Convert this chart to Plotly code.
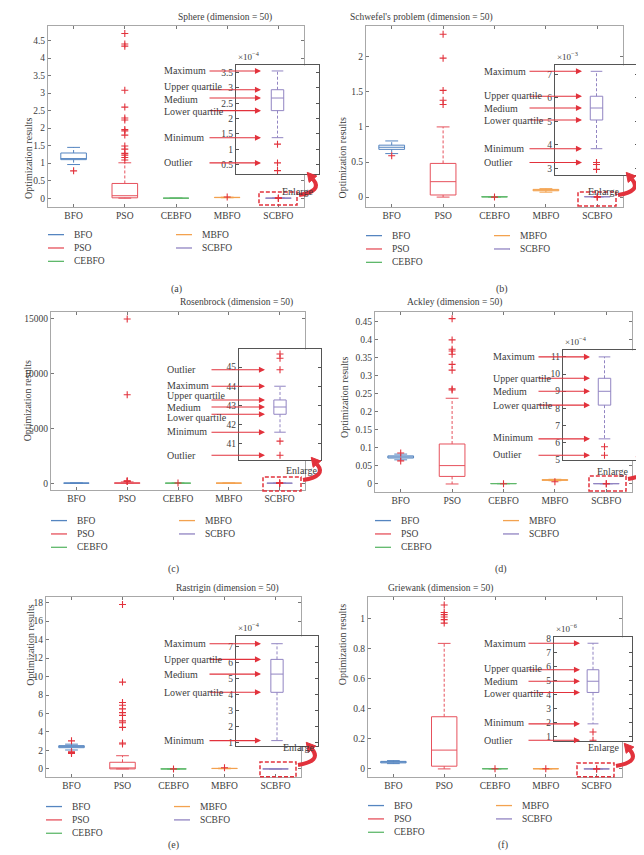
import numpy as np
import plotly.graph_objects as go

W, H = 644, 855
ALGOS = ["BFO", "PSO", "CEBFO", "MBFO", "SCBFO"]
COLORS = ["#5585c0", "#e6515c", "#5fb86b", "#f3a24f", "#9184c2"]
RED = "#e2323c"
FONT = "Liberation Serif"
INK = "#3c3c3c"

# five-number summaries (lower whisker, Q1, median, Q3, upper whisker) for BFO, PSO, CEBFO, MBFO, SCBFO
sphere_lo = [0.96, 0.0, 0.0, 0.012, 1.38e-4]
sphere_q1 = [1.10, 0.01, 0.0, 0.016, 2.26e-4]
sphere_med = [1.13, 0.07, 0.0, 0.020, 2.67e-4]
sphere_q3 = [1.29, 0.42, 0.0, 0.024, 2.94e-4]
sphere_hi = [1.45, 1.01, 0.0, 0.028, 3.55e-4]
sphere_out = [[0.78],
              [4.70, 4.40, 4.34, 3.08, 2.60, 2.29, 2.23, 1.96, 1.92, 1.80, 1.49, 1.40, 1.28, 1.23, 1.16, 1.09],
              [], [0.035], [1.17e-4, 0.56e-4, 0.31e-4]]

schwefel_lo = [0.62, 0.0, 0.0, 0.07, 3.84e-3]
schwefel_q1 = [0.68, 0.03, 0.002, 0.09, 5.06e-3]
schwefel_med = [0.71, 0.22, 0.004, 0.10, 5.57e-3]
schwefel_q3 = [0.74, 0.48, 0.006, 0.11, 6.07e-3]
schwefel_hi = [0.80, 1.00, 0.008, 0.12, 7.13e-3]
schwefel_out = [[0.59], [2.32, 1.98, 1.52, 1.38, 1.32], [0.0], [], [3.25e-3, 3.17e-3, 2.96e-3]]

rosen_lo = [44, 15, 40, 45, 41.59]
rosen_q1 = [46, 30, 43, 47, 42.53]
rosen_med = [48, 48, 45, 48, 42.91]
rosen_q3 = [50, 80, 47, 49, 43.28]
rosen_hi = [52, 160, 49, 51, 44.0]
rosen_out = [[], [15000, 8100, 260, 230, 200], [55], [], [45.69, 45.47, 44.86, 41.12, 40.38]]

ackley_lo = [0.067, 0.0, 0.0005, 0.009, 6.21e-4]
ackley_q1 = [0.072, 0.021, 0.0008, 0.010, 8.18e-4]
ackley_med = [0.075, 0.051, 0.0010, 0.011, 8.99e-4]
ackley_q3 = [0.078, 0.111, 0.0012, 0.012, 9.75e-4]
ackley_hi = [0.083, 0.238, 0.0015, 0.013, 11.0e-4]
ackley_out = [[0.086, 0.064], [0.459, 0.40, 0.374, 0.369, 0.36, 0.332, 0.316, 0.264, 0.261],
              [0.0005], [0.006], [5.75e-4, 5.25e-4]]

rastrigin_lo = [2.05, 0.0, 0.0, 0.02, 1.10e-4]
rastrigin_q1 = [2.30, 0.0, 0.0005, 0.04, 4.12e-4]
rastrigin_med = [2.42, 0.03, 0.001, 0.05, 5.26e-4]
rastrigin_q3 = [2.52, 0.72, 0.0015, 0.06, 6.18e-4]
rastrigin_hi = [2.68, 1.43, 0.002, 0.08, 7.16e-4]
rastrigin_out = [[3.04, 1.86, 1.78, 1.68], [17.8, 9.4, 7.2, 6.9, 6.5, 6.1, 5.8, 5.2, 5.0, 4.5, 2.8, 2.7],
                 [0.0], [0.12], []]

griewank_lo = [0.035, 0.0, 0.0, 0.0, 1.89e-6]
griewank_q1 = [0.040, 0.018, 0.0005, 0.0005, 4.13e-6]
griewank_med = [0.045, 0.125, 0.001, 0.001, 4.93e-6]
griewank_q3 = [0.050, 0.347, 0.0015, 0.0015, 5.75e-6]
griewank_hi = [0.055, 0.835, 0.002, 0.002, 7.64e-6]
griewank_out = [[], [1.09, 1.04, 1.026, 1.01, 0.993, 0.97], [0.001], [0.001], [1.31e-6, 0.72e-6]]

MARK_NAMES = {"hi": "Maximum", "q3": "Upper quartile", "med": "Medium", "q1": "Lower quartile", "lo": "Minimum"}

# layout of each panel in pixels (left, right, top, bottom); marks = (stat, text shift in px)
PANELS = [
    dict(title="Sphere (dimension = 50)", sub="(a)",
         data=(sphere_lo, sphere_q1, sphere_med, sphere_q3, sphere_hi, sphere_out), scale=1e-4,
         marks=[("hi", 0), ("q3", 3), ("med", -1), ("q1", -1), ("lo", 0), (1, 0)],
         main=(40, 296, 14, 197), yr=(-0.25, 4.92), dtick=0.5, fmt="",
         inset=(228, 311, 54, 164), iyr=(0.19, 3.73), idtick=0.5,
         text_x=154, tail=200, head=253, rect=(251, 289, 182, 195), enl=(289, 174),
         ytitle=(13, 105), title_y=6, leg_y=225, sub_xy=(161, 272)),
    dict(title="Schwefel's problem (dimension = 50)", sub="(b)",
         data=(schwefel_lo, schwefel_q1, schwefel_med, schwefel_q3, schwefel_hi, schwefel_out), scale=1e-3,
         marks=[("hi", 0), ("q3", 1), ("med", 0), ("q1", -1), ("lo", 0), (0, 0)],
         main=(358, 615, 14, 197), yr=(-0.14, 2.44), dtick=0.5, fmt="",
         inset=(547, 630, 54, 165), iyr=(2.71, 7.38), idtick=1,
         text_x=474, tail=520, head=574, rect=(570, 608, 182, 196), enl=(613, 174),
         ytitle=(334, 105), title_y=6, leg_y=226, sub_xy=(502, 272)),
    dict(title="Rosenbrock (dimension = 50)", sub="(c)",
         data=(rosen_lo, rosen_q1, rosen_med, rosen_q3, rosen_hi, rosen_out), scale=1,
         marks=[(2, 0), ("hi", 1), ("q3", 4), ("med", 0), ("q1", -3), ("lo", 1), (4, 0)],
         main=(43, 297, 303, 483), yr=(-570, 15650), dtick=5000, fmt="d",
         inset=(231, 313, 341, 453), iyr=(40.12, 45.93), idtick=1,
         text_x=157, tail=202, head=257, rect=(255, 293, 470, 484), enl=(293, 463),
         ytitle=(12, 393), title_y=294, leg_y=514, sub_xy=(158, 563)),
    dict(title="Ackley (dimension = 50)", sub="(d)",
         data=(ackley_lo, ackley_q1, ackley_med, ackley_q3, ackley_hi, ackley_out), scale=1e-4,
         marks=[("hi", 0), ("q3", 0), ("med", 0), ("q1", 0), ("lo", 1), (1, 1)],
         main=(367, 624, 303, 485), yr=(-0.022, 0.478), dtick=0.05, fmt="",
         inset=(555, 638, 342, 453), iyr=(4.96, 11.38), idtick=1,
         text_x=483, tail=529, head=582, rect=(581, 618, 469, 484), enl=(622, 464),
         ytitle=(337, 390), title_y=294, leg_y=514, sub_xy=(501, 563)),
    dict(title="Rastrigin (dimension = 50)", sub="(e)",
         data=(rastrigin_lo, rastrigin_q1, rastrigin_med, rastrigin_q3, rastrigin_hi, rastrigin_out), scale=1e-4,
         marks=[("hi", 0), ("q3", 0), ("med", 0), ("q1", 0), ("lo", 0)],
         main=(38, 293, 591, 773), yr=(-0.86, 18.64), dtick=2, fmt="",
         inset=(228, 310, 631, 742), iyr=(0.75, 7.62), idtick=1,
         text_x=154, tail=200, head=253, rect=(252, 288, 758, 773), enl=(290, 751),
         ytitle=(15, 683), title_y=583, leg_y=803, sub_xy=(158, 850)),
    dict(title="Griewank (dimension = 50)", sub="(f)",
         data=(griewank_lo, griewank_q1, griewank_med, griewank_q3, griewank_hi, griewank_out), scale=1e-6,
         marks=[("hi", 0), ("q3", 1), ("med", 0), ("q1", -1), ("lo", 1), (1, 0)],
         main=(360, 614, 591, 773), yr=(-0.053, 1.145), dtick=0.2, fmt="",
         inset=(546, 624, 632, 737), iyr=(0.65, 8.06), idtick=1,
         text_x=474, tail=519, head=572, rect=(569, 606, 759, 773), enl=(613, 751),
         ytitle=(334, 683), title_y=583, leg_y=802, sub_xy=(502, 850)),
]


def fx(x):
    return x / W


def fy(y):
    return 1 - y / H


def add_box(fig, x, lo, q1, med, q3, hi, color, width, cap, xa, ya):
    fig.add_trace(go.Box(
        x=[x], q1=[q1], median=[med], q3=[q3], lowerfence=[q1], upperfence=[q3],
        width=width, whiskerwidth=0, boxpoints=False,
        line=dict(color=color, width=1), fillcolor="rgba(0,0,0,0)",
        xaxis=xa, yaxis=ya, showlegend=False, hoverinfo="skip",
    ))
    fig.add_trace(go.Scatter(
        x=[x, x, None, x, x], y=[q3, hi, None, q1, lo], mode="lines",
        line=dict(color=color, width=1, dash="3px,2px"),
        xaxis=xa, yaxis=ya, showlegend=False, hoverinfo="skip",
    ))
    fig.add_trace(go.Scatter(
        x=[x - cap, x + cap, None, x - cap, x + cap], y=[hi, hi, None, lo, lo], mode="lines",
        line=dict(color=color, width=1),
        xaxis=xa, yaxis=ya, showlegend=False, hoverinfo="skip",
    ))


def add_outliers(fig, xs, ys, xa, ya):
    fig.add_trace(go.Scatter(
        x=xs, y=ys, mode="markers",
        marker=dict(symbol="cross-thin", size=5, line=dict(width=1.1, color=RED)),
        xaxis=xa, yaxis=ya, showlegend=False, hoverinfo="skip",
    ))


fig = go.Figure()
layout = {}
shapes = []
annotations = []
tickfont = dict(family=FONT, size=9.5, color=INK)

for i, p in enumerate(PANELS):
    lo, q1, med, q3, hi, out = p["data"]
    n = i + 1
    m = i + 7
    xa, ya = f"x{'' if n == 1 else n}", f"y{'' if n == 1 else n}"
    xi, yi = f"x{m}", f"y{m}"

    # main boxes
    positions = np.arange(1, len(ALGOS) + 1)
    for k, pos in enumerate(positions):
        add_box(fig, pos, lo[k], q1[k], med[k], q3[k], hi[k], COLORS[k], 0.5, 0.125, xa, ya)
    ox = [pos for k, pos in enumerate(positions) for _ in out[k]]
    oy = [v for k in range(len(ALGOS)) for v in out[k]]
    add_outliers(fig, ox, oy, xa, ya)

    # enlarged SCBFO box
    s = p["scale"]
    add_box(fig, 0.5, lo[4] / s, q1[4] / s, med[4] / s, q3[4] / s, hi[4] / s, COLORS[4], 0.15, 0.07, xi, yi)
    if out[4]:
        add_outliers(fig, [0.5] * len(out[4]), [v / s for v in out[4]], xi, yi)

    L, R, T, B = p["main"]
    layout[f"xaxis{'' if n == 1 else n}"] = dict(
        domain=[fx(L), fx(R)], range=[0.5, 5.5], anchor=ya,
        tickvals=list(positions), ticktext=ALGOS, ticks="inside", ticklen=3,
        showline=True, mirror="ticks", linecolor="#a8a8a8", linewidth=1,
        showgrid=False, zeroline=False, tickfont=tickfont, tickcolor="#777",
    )
    layout[f"yaxis{'' if n == 1 else n}"] = dict(
        domain=[fy(B), fy(T)], range=list(p["yr"]), anchor=xa,
        tick0=0, dtick=p["dtick"], tickformat=p["fmt"], ticks="inside", ticklen=3,
        showline=True, mirror="ticks", linecolor="#a8a8a8", linewidth=1,
        showgrid=False, zeroline=False, tickfont=tickfont, tickcolor="#777",
    )

    iL, iR, iT, iB = p["inset"]
    layout[f"xaxis{m}"] = dict(
        domain=[fx(iL), fx(iR)], range=[0, 1], anchor=yi,
        showticklabels=False, ticks="", showline=True, mirror=True,
        linecolor="#555", linewidth=1, showgrid=False, zeroline=False,
    )
    layout[f"yaxis{m}"] = dict(
        domain=[fy(iB), fy(iT)], range=list(p["iyr"]), anchor=xi,
        dtick=p["idtick"], ticks="inside", ticklen=3,
        showline=True, mirror="ticks", linecolor="#555", linewidth=1,
        showgrid=False, zeroline=False, tickfont=tickfont, tickcolor="#555",
    )

    # exponent label above inset
    if s != 1:
        exp = int(round(np.log10(s)))
        annotations.append(dict(
            xref="paper", yref="paper", x=fx(iL), y=fy(iT - 1), xanchor="left", yanchor="bottom",
            text=f"×10<sup>−{abs(exp)}</sup>", showarrow=False,
            font=dict(family=FONT, size=9, color=INK),
        ))

    # arrows with labels pointing at the enlarged box
    stat = dict(lo=lo[4], q1=q1[4], med=med[4], q3=q3[4], hi=hi[4])
    for key, shift in p["marks"]:
        if isinstance(key, int):
            val, label = out[4][key] / s, "Outlier"
        else:
            val, label = stat[key] / s, MARK_NAMES[key]
        annotations.append(dict(
            xref="paper", yref=yi, x=fx(p["head"]), y=val, text="",
            showarrow=True, axref="pixel", ayref="pixel", ax=p["tail"] - p["head"], ay=0,
            arrowhead=2, arrowsize=1.1, arrowwidth=1.1, arrowcolor=RED,
        ))
        annotations.append(dict(
            xref="paper", yref=yi, x=fx(p["text_x"]), y=val, xanchor="left", yanchor="middle",
            yshift=shift, text=label, showarrow=False, font=dict(family=FONT, size=10, color=INK),
        ))

    # titles and labels
    annotations.append(dict(
        xref="paper", yref="paper", x=fx((L + R) / 2), y=fy(p["title_y"]), yanchor="middle",
        text=p["title"], showarrow=False, font=dict(family=FONT, size=9.5, color=INK),
    ))
    annotations.append(dict(
        xref="paper", yref="paper", x=fx(p["ytitle"][0]), y=fy(p["ytitle"][1]), textangle=-90,
        text="Optimization results", showarrow=False, font=dict(family=FONT, size=10, color=INK),
    ))
    annotations.append(dict(
        xref="paper", yref="paper", x=fx(p["sub_xy"][0]), y=fy(p["sub_xy"][1]),
        text=p["sub"], showarrow=False, font=dict(family=FONT, size=10, color=INK),
    ))
    annotations.append(dict(
        xref="paper", yref="paper", x=fx(p["enl"][0]), y=fy(p["enl"][1]),
        text="Enlarge", showarrow=False, font=dict(family=FONT, size=10, color=INK),
    ))

    # dashed frame around the SCBFO box
    r0, r1, t0, t1 = p["rect"]
    shapes.append(dict(type="rect", xref="paper", yref="paper",
                       x0=fx(r0), x1=fx(r1), y0=fy(t1), y1=fy(t0),
                       line=dict(color=RED, width=1.5, dash="4px,2px")))

    # curved "Enlarge" arrow
    sx, sy = r1 + 2, t0 + 3
    cx, cy = r1 + 26, t0 - 1
    ex, ey = r1 + 16, t0 - 13
    d = np.array([ex - cx, ey - cy], dtype=float)
    d /= np.linalg.norm(d)
    perp = np.array([-d[1], d[0]])
    tip = np.array([ex, ey]) + 9 * d
    b1 = np.array([ex, ey]) + 5 * perp
    b2 = np.array([ex, ey]) - 5 * perp
    shapes.append(dict(type="path", xref="paper", yref="paper",
                       path=f"M{fx(sx)},{fy(sy)} Q{fx(cx)},{fy(cy)} {fx(ex)},{fy(ey)}",
                       line=dict(color=RED, width=4)))
    shapes.append(dict(type="path", xref="paper", yref="paper",
                       path=f"M{fx(tip[0])},{fy(tip[1])} L{fx(b1[0])},{fy(b1[1])} L{fx(b2[0])},{fy(b2[1])} Z",
                       fillcolor=RED, line=dict(color=RED, width=1)))

    # legend, two columns
    for k, name in enumerate(ALGOS):
        col, row = divmod(k, 3)
        lx = L + (128 if col else 0)
        ly = p["leg_y"] + 13.5 * row
        shapes.append(dict(type="line", xref="paper", yref="paper",
                           x0=fx(lx), x1=fx(lx + 16), y0=fy(ly), y1=fy(ly),
                           line=dict(color=COLORS[k], width=1.3)))
        annotations.append(dict(
            xref="paper", yref="paper", x=fx(lx + 24), y=fy(ly), xanchor="left", yanchor="middle",
            text=name, showarrow=False, font=dict(family=FONT, size=9.5, color=INK),
        ))

fig.update_layout(
    width=W, height=H, margin=dict(l=0, r=0, t=0, b=0),
    paper_bgcolor="white", plot_bgcolor="white", showlegend=False,
    shapes=shapes, annotations=annotations, **layout,
)

fig.write_html("out.html")
